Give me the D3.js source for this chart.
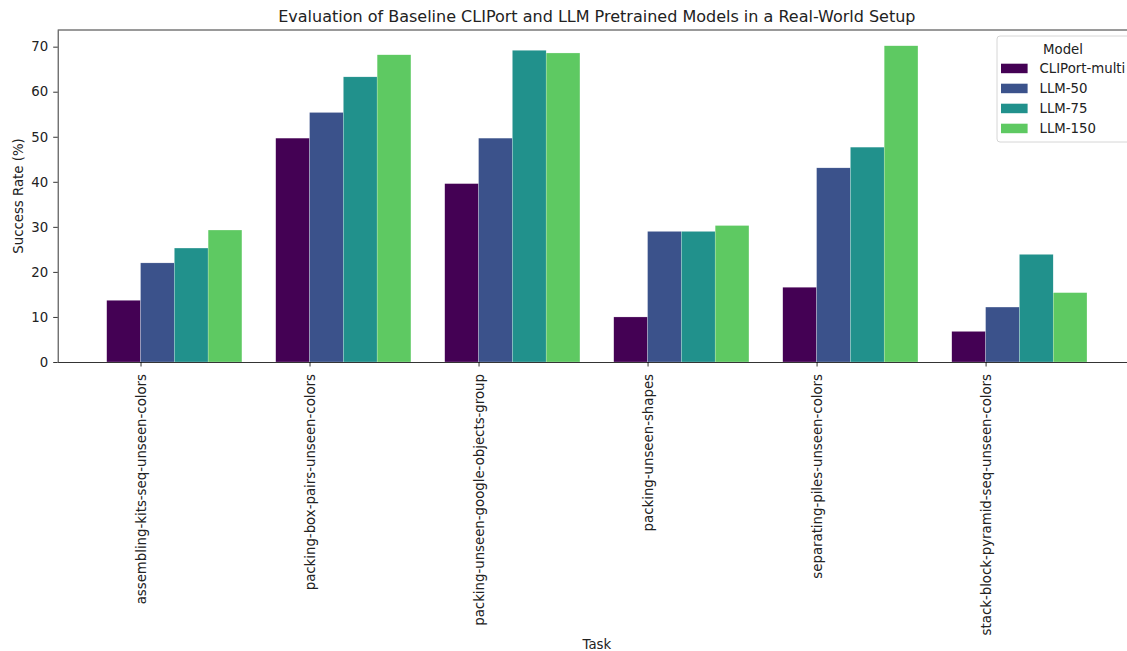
<!DOCTYPE html>
<html>
<head>
<meta charset="utf-8">
<script src="https://cdn.jsdelivr.net/npm/d3@7"></script>
<style>
  body { margin: 0; background: #fff; }
  svg { display: block; font-family: "DejaVu Sans", sans-serif; }
</style>
</head>
<body>
<div id="chart"></div>
<script>
// ── Data ─────────────────────────────────────────────────────
const tasks = [
  'assembling-kits-seq-unseen-colors',
  'packing-box-pairs-unseen-colors',
  'packing-unseen-google-objects-group',
  'packing-unseen-shapes',
  'separating-piles-unseen-colors',
  'stack-block-pyramid-seq-unseen-colors'
];
const models = ['CLIPort-multi', 'LLM-50', 'LLM-75', 'LLM-150'];
const colors = ['#440154', '#3b528b', '#21918c', '#5ec962'];

const clipportMulti = [13.7, 49.7, 39.6, 10.0, 16.6, 6.8];
const llm50 = [22.0, 55.4, 49.7, 29.0, 43.1, 12.2];
const llm75 = [25.3, 63.3, 69.2, 29.0, 47.7, 23.9];
const llm150 = [29.3, 68.2, 68.6, 30.3, 70.2, 15.4];
const seriesValues = [clipportMulti, llm50, llm75, llm150];
const yTicks = [0, 10, 20, 30, 40, 50, 60, 70];

// ── Layout ───────────────────────────────────────────────────
const W = 1127, H = 651;
const margin = { top: 30, left: 57.7, bottom: 289 };
const axRight = 1136;           // axes run past the picture edge (cropped figure)
const innerH = H - margin.top - margin.bottom;
const barW = 0.2;
const FONT = '"DejaVu Sans", sans-serif';
const FS = '13.3px';

const svg = d3.select('#chart').append('svg')
  .attr('width', W).attr('height', H);

// bars at i + k*0.2, ticks at i + 0.1 (matplotlib style, xlim with 5% margin)
const x = d3.scaleLinear().domain([-0.39, 5.99]).range([margin.left, axRight]);
const y = d3.scaleLinear().domain([0, 73.7]).range([margin.top + innerH, margin.top]);
const y0 = y(0);

// ── Bars ─────────────────────────────────────────────────────
const g = svg.append('g');
seriesValues.forEach((vals, k) => {
  g.selectAll(null).data(vals).join('rect')
    .attr('x', (d, i) => x(i + k * barW - barW / 2))
    .attr('width', x(barW) - x(0))
    .attr('y', d => y(d))
    .attr('height', d => y0 - y(d))
    .attr('fill', colors[k])
    .attr('stroke', '#fff')
    .attr('stroke-width', 0.4)
    .attr('stroke-opacity', 0.6);
});

// ── Axes ─────────────────────────────────────────────────────
const xAxis = svg.append('g')
  .attr('transform', `translate(0,${y0})`)
  .call(d3.axisBottom(x).tickValues(tasks.map((t, i) => i + 0.1))
    .tickFormat((d, i) => tasks[i]).tickSize(4.5).tickSizeOuter(0))
  .attr('font-family', FONT);
xAxis.select('.domain').attr('stroke', '#000').attr('stroke-width', 0.8);
xAxis.selectAll('.tick line').attr('stroke', '#000').attr('stroke-width', 0.8);
xAxis.selectAll('.tick text')
  .attr('font-size', FS).attr('fill', '#222')
  .attr('transform', 'rotate(-90)')
  .attr('text-anchor', 'end')
  .attr('x', -12).attr('y', 0).attr('dy', '0.35em');

const yAxis = svg.append('g')
  .attr('transform', `translate(${margin.left},0)`)
  .call(d3.axisLeft(y).tickValues(yTicks).tickSize(4.5).tickSizeOuter(0).tickPadding(5))
  .attr('font-family', FONT);
yAxis.select('.domain').attr('stroke', '#000').attr('stroke-width', 0.8);
yAxis.selectAll('.tick line').attr('stroke', '#000').attr('stroke-width', 0.8);
yAxis.selectAll('.tick text').attr('font-size', FS).attr('fill', '#222');

// top spine (right spine is outside the picture)
svg.append('line')
  .attr('x1', margin.left).attr('x2', axRight)
  .attr('y1', margin.top).attr('y2', margin.top)
  .attr('stroke', '#000').attr('stroke-width', 0.8);

// ── Labels ───────────────────────────────────────────────────
const midX = (margin.left + axRight) / 2;
svg.append('text')
  .attr('x', midX).attr('y', 22)
  .attr('text-anchor', 'middle').attr('font-size', '16px').attr('fill', '#222')
  .text('Evaluation of Baseline CLIPort and LLM Pretrained Models in a Real-World Setup');

svg.append('text')
  .attr('x', midX).attr('y', 649)
  .attr('text-anchor', 'middle').attr('font-size', FS).attr('fill', '#222')
  .text('Task');

svg.append('text')
  .attr('transform', `translate(23,${(margin.top + y0) / 2}) rotate(-90)`)
  .attr('text-anchor', 'middle').attr('font-size', FS).attr('fill', '#222')
  .text('Success Rate (%)');

// ── Legend ───────────────────────────────────────────────────
const lg = svg.append('g').attr('transform', 'translate(997,36)');
lg.append('rect')
  .attr('width', 140).attr('height', 106).attr('rx', 3)
  .attr('fill', '#fff').attr('fill-opacity', 0.8)
  .attr('stroke', '#ccc').attr('stroke-width', 0.8);
lg.append('text')
  .attr('x', 66).attr('y', 13).attr('dy', '0.35em')
  .attr('text-anchor', 'middle').attr('font-size', FS).attr('fill', '#222')
  .text('Model');
models.forEach((m, k) => {
  const row = lg.append('g').attr('transform', `translate(0,${32.7 + k * 20})`);
  row.append('rect')
    .attr('x', 4).attr('y', -5).attr('width', 26.6).attr('height', 9.5)
    .attr('fill', colors[k]);
  row.append('text')
    .attr('x', 42.5).attr('y', 0).attr('dy', '0.35em')
    .attr('font-size', FS).attr('fill', '#222')
    .text(m);
});
</script>
</body>
</html>
